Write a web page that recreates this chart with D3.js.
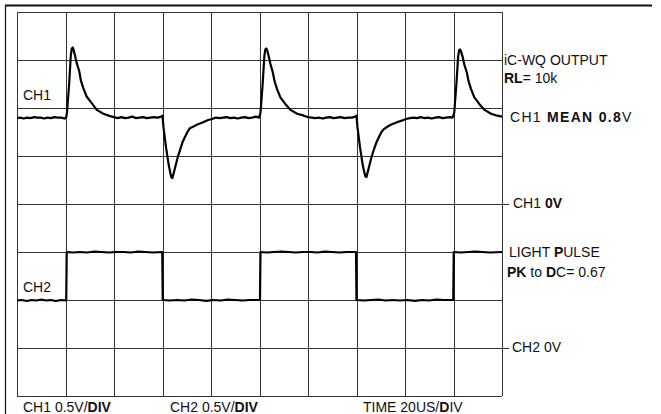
<!DOCTYPE html>
<html>
<head>
<meta charset="utf-8">
<script src="https://cdn.jsdelivr.net/npm/d3@7"></script>
<style>
  html, body { margin: 0; padding: 0; background: #fff; }
  svg { display: block; font-family: "Liberation Sans", Arial, sans-serif; }
</style>
</head>
<body>
<div id="scope"></div>
<script>
// ---------------------------------------------------------------------------
// data (time in us, 20 us/div; volts at 0.5 V/div)
// ---------------------------------------------------------------------------
const timeDomain = [0, 200];
const divDomain = [0, 8];
const ch1ZeroDiv = 4;
const ch2ZeroDiv = 1;
const voltsPerDiv = 0.5;

const ch1Trace = [
  [0, 0.895], [1.4, 0.9], [2.8, 0.89], [4.2, 0.9], [5.6, 0.895], [7, 0.905], [8.4, 0.9],
  [9.8, 0.9], [11.2, 0.89], [12.6, 0.9], [14, 0.895], [15.4, 0.905], [16.8, 0.9],
  [18.2, 0.9], [19.6, 0.89], [20.3, 0.905],
  [20.6, 0.95], [21.5, 1.25], [22.2, 1.55], [22.6, 1.62], [23.0, 1.63], [23.4, 1.6],
  [23.9, 1.55], [24.6, 1.47], [25.7, 1.38], [26.3, 1.29], [27.3, 1.21], [28.7, 1.12],
  [30.8, 1.05], [32.9, 0.98], [35.6, 0.94], [38.4, 0.915],
  [40, 0.905], [41.5, 0.895], [43, 0.905], [44.5, 0.895], [46, 0.9], [47.5, 0.91],
  [49, 0.895], [50.5, 0.9], [52, 0.905], [53.5, 0.895], [55, 0.9], [56.5, 0.905],
  [58, 0.9], [59.5, 0.91], [60, 0.92],
  [60.4, 0.8], [61.4, 0.6], [62.6, 0.4], [63.6, 0.28], [64.1, 0.27], [65, 0.36],
  [66.2, 0.48], [67.2, 0.56], [68.2, 0.64], [69.3, 0.7], [70.3, 0.75], [71.3, 0.79],
  [73, 0.81], [74.6, 0.83], [76.5, 0.85], [78.8, 0.875], [80.5, 0.885], [82, 0.9],
  [83.5, 0.895], [85, 0.9], [86.5, 0.905], [88, 0.895], [89.5, 0.9], [91, 0.89],
  [92.5, 0.9], [94, 0.905], [95.5, 0.895], [97, 0.9], [98.5, 0.91], [99.8, 0.9],
  [100.4, 0.95], [101.3, 1.25], [102.0, 1.54], [102.4, 1.61], [102.8, 1.62], [103.2, 1.6],
  [103.8, 1.54], [104.5, 1.46], [105.5, 1.37], [106.2, 1.28], [107.2, 1.2], [108.6, 1.11],
  [110.7, 1.04], [112.8, 0.98], [115.5, 0.94], [118.3, 0.92],
  [120, 0.905], [121.5, 0.9], [123, 0.895], [124.5, 0.9], [126, 0.89], [127.5, 0.9],
  [129, 0.905], [130.5, 0.895], [132, 0.9], [133.5, 0.905], [135, 0.895], [136.5, 0.9],
  [138, 0.9], [139.5, 0.91], [140, 0.92],
  [140.4, 0.8], [141.4, 0.6], [142.6, 0.4], [143.6, 0.29], [144.1, 0.28], [145, 0.37],
  [146.2, 0.49], [147.2, 0.57], [148.2, 0.64], [149.3, 0.7], [150.3, 0.75], [151.3, 0.78],
  [153, 0.81], [154.6, 0.83], [156.5, 0.85], [158.8, 0.87], [160.5, 0.885], [162, 0.895],
  [163.5, 0.9], [165, 0.895], [166.5, 0.905], [168, 0.895], [169.5, 0.9], [171, 0.89],
  [172.5, 0.9], [174, 0.905], [175.5, 0.895], [177, 0.9], [178.5, 0.905], [179.6, 0.9],
  [180.3, 0.95], [181.2, 1.25], [181.9, 1.53], [182.3, 1.6], [182.7, 1.61], [183.1, 1.59],
  [183.8, 1.53], [184.5, 1.45], [185.5, 1.37], [186.2, 1.28], [187.2, 1.2], [188.6, 1.11],
  [190.7, 1.04], [192.8, 0.98], [195.5, 0.94], [198, 0.92], [200, 0.91]
];

const ch2Trace = [
  [0, 0.495], [2, 0.5], [4, 0.49], [6, 0.5], [8, 0.495], [10, 0.505], [12, 0.495], [14, 0.5],
  [16, 0.49], [18, 0.5], [20.3, 0.495],
  [20.5, 1.0], [23, 0.995], [26, 1.0], [29, 0.995], [32, 1.005], [35, 1.0], [38, 0.995],
  [41, 1.0], [44, 1.0], [47, 0.995], [50, 1.005], [53, 1.0], [56, 0.995], [59.9, 1.0],
  [60.1, 0.5], [63, 0.495], [66, 0.5], [69, 0.495], [72, 0.505], [75, 0.5], [78, 0.49],
  [81, 0.5], [84, 0.495], [87, 0.505], [90, 0.5], [93, 0.495], [96, 0.5], [100.2, 0.5],
  [100.4, 1.0], [103, 0.995], [106, 1.0], [109, 1.005], [112, 1.0], [115, 0.995], [118, 1.0],
  [121, 1.0], [124, 0.995], [127, 1.005], [130, 1.0], [133, 0.995], [136, 1.0], [139.8, 1.0],
  [140, 0.5], [143, 0.495], [146, 0.5], [149, 0.505], [152, 0.495], [155, 0.5], [158, 0.495],
  [161, 0.5], [164, 0.49], [167, 0.5], [170, 0.495], [173, 0.505], [176, 0.5], [179.9, 0.5],
  [180.1, 1.0], [183, 0.995], [186, 1.0], [189, 1.005], [192, 1.0], [195, 0.995], [200, 1.0]
];

// text pieces, "*...*" marks bold runs (the scan has some heavier glyphs)
const channelNames = ["CH1", "CH2"];
const sideNotes = [
  "iC-WQ OUTPUT",
  "*RL*= 10k",
  "CH1 *MEAN 0.8*V",
  "CH1 *0V*",
  "LIGHT *P*ULSE",
  "*PK* to *D*C= 0.67",
  "CH2 0V"
];
const scaleNotes = ["CH1 0.5V/*DIV*", "CH2 0.5V/*DIV*", "TIME 20US/*D*IV"];

// ---------------------------------------------------------------------------
// drawing
// ---------------------------------------------------------------------------
const W = 661, H = 414;
const grid = {left: 17, right: 502, top: 12, bottom: 396};

const svg = d3.select("#scope").append("svg")
  .attr("width", W)
  .attr("height", H);

const x = d3.scaleLinear().domain(timeDomain).range([grid.left, grid.right]);
const y = d3.scaleLinear().domain(divDomain).range([grid.bottom, grid.top]);

// outer frame: heavy top rule and a thin left rule
svg.append("line")
  .attr("x1", 5).attr("x2", 652).attr("y1", 5.5).attr("y2", 5.5)
  .attr("stroke", "#111").attr("stroke-width", 2);
svg.append("line")
  .attr("x1", 5.5).attr("x2", 5.5).attr("y1", 5).attr("y2", H)
  .attr("stroke", "#111").attr("stroke-width", 1.2);

// graticule
const gridG = svg.append("g").attr("stroke", "#333").attr("stroke-width", 1);
gridG.selectAll("line.v")
  .data(x.ticks(10))
  .enter().append("line")
  .attr("class", "v")
  .attr("x1", d => Math.round(x(d)) + 0.5).attr("x2", d => Math.round(x(d)) + 0.5)
  .attr("y1", grid.top).attr("y2", grid.bottom);
gridG.selectAll("line.h")
  .data(y.ticks(8))
  .enter().append("line")
  .attr("class", "h")
  .attr("y1", d => Math.round(y(d)) + 0.5).attr("y2", d => Math.round(y(d)) + 0.5)
  .attr("x1", grid.left)
  .attr("x2", d => (d === ch1ZeroDiv || d === ch2ZeroDiv) ? grid.right + 7 : grid.right);

// traces
function traceLine(zeroDiv){
  return d3.line()
    .x(d => x(d[0]))
    .y(d => y(zeroDiv + d[1] / voltsPerDiv));
}

[[ch1Trace, ch1ZeroDiv], [ch2Trace, ch2ZeroDiv]].forEach(function(tr){
  svg.append("path")
    .datum(tr[0])
    .attr("d", traceLine(tr[1]))
    .attr("fill", "none").attr("stroke", "#000")
    .attr("stroke-width", 2.2).attr("stroke-linejoin", "round");
});

// labels
function addText(str, px, py, spacing){
  const t = svg.append("text")
    .attr("x", px).attr("y", py)
    .attr("font-size", 14)
    .attr("letter-spacing", spacing || 0)
    .attr("fill", "#111");
  str.split("*").forEach(function(part, i){
    if(part === "") return;
    t.append("tspan")
      .attr("font-weight", i % 2 ? "bold" : "normal")
      .text(part);
  });
  return t;
}

const channelPos = [[23, 100], [23, 292]];
channelNames.forEach((s, i) => addText(s, channelPos[i][0], channelPos[i][1]));

const sidePos = [[504, 65], [504, 83], [510, 122], [513, 208], [509, 257], [507, 277], [512, 352]];
sideNotes.forEach((s, i) => addText(s, sidePos[i][0], sidePos[i][1], i === 2 ? 1.3 : 0));

const scalePos = [[23, 412], [170, 412], [363, 412]];
scaleNotes.forEach((s, i) => addText(s, scalePos[i][0], scalePos[i][1]));
</script>
</body>
</html>
